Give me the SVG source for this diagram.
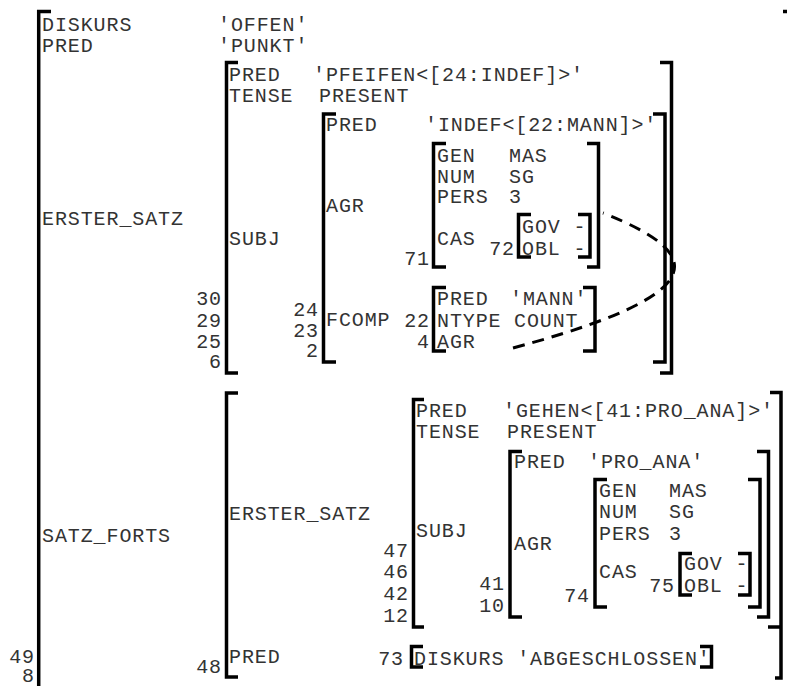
<svg xmlns="http://www.w3.org/2000/svg" width="787" height="686" viewBox="0 0 787 686">
<style>
.t{font-family:"Liberation Mono","Courier New",monospace;font-size:20px;letter-spacing:0.9px;fill:#333}
.n{text-anchor:end}
.b{fill:none;stroke:#000;stroke-width:3.5;stroke-linejoin:miter;stroke-linecap:butt}
.c{fill:none;stroke:#000;stroke-width:3;stroke-dasharray:12 8}
</style>
<rect width="787" height="686" fill="#fff"/>
<g id="f8">
<path class="b" d="M51,11.5 H38.7 V700"/>
<path class="b" d="M783,11.5 H792 V700"/>
<text class="t" x="42" y="31">DISKURS</text>
<text class="t" x="42" y="52">PRED</text>
<text class="t" x="218" y="31">'OFFEN'</text>
<text class="t" x="218" y="52">'PUNKT'</text>
<text class="t" x="42" y="225">ERSTER_SATZ</text>
<text class="t" x="42" y="542">SATZ_FORTS</text>
<text class="t n" x="35" y="663">49</text>
<text class="t n" x="35" y="682">8</text>
</g>
<g id="f6">
<path class="b" d="M238,62.5 H226.5 V373 H238"/>
<path class="b" d="M660,62.5 H671.5 V373 H660"/>
<text class="t" x="229" y="81">PRED</text>
<text class="t" x="313" y="81">'PFEIFEN&lt;[24:INDEF]&gt;'</text>
<text class="t" x="229" y="102">TENSE</text>
<text class="t" x="319" y="102">PRESENT</text>
<text class="t" x="229" y="245">SUBJ</text>
<text class="t n" x="222" y="305">30</text>
<text class="t n" x="222" y="327">29</text>
<text class="t n" x="222" y="348">25</text>
<text class="t n" x="222" y="368">6</text>
</g>
<g id="f2">
<path class="b" d="M336,114 H323.5 V362 H336"/>
<path class="b" d="M653,114 H665 V362 H653"/>
<text class="t" x="326" y="131">PRED</text>
<text class="t" x="425" y="131">'INDEF&lt;[22:MANN]&gt;'</text>
<text class="t" x="326" y="212">AGR</text>
<text class="t" x="326" y="326">FCOMP</text>
<text class="t n" x="319" y="316">24</text>
<text class="t n" x="319" y="337">23</text>
<text class="t n" x="319" y="357">2</text>
</g>
<g id="f71">
<path class="b" d="M446,143.5 H433.5 V267 H446"/>
<path class="b" d="M587,143.5 H598.5 V267 H587"/>
<text class="t" x="437" y="162">GEN</text>
<text class="t" x="509" y="162">MAS</text>
<text class="t" x="437" y="183">NUM</text>
<text class="t" x="509" y="183">SG</text>
<text class="t" x="437" y="203">PERS</text>
<text class="t" x="509" y="203">3</text>
<text class="t" x="437" y="245">CAS</text>
<text class="t n" x="430" y="265">71</text>
</g>
<g id="f72">
<path class="b" d="M531,214.5 H518.5 V257 H531"/>
<path class="b" d="M578,214.5 H590 V257 H578"/>
<text class="t" x="522" y="233">GOV -</text>
<text class="t" x="522" y="255">OBL -</text>
<text class="t n" x="515" y="255">72</text>
</g>
<g id="f4">
<path class="b" d="M446,287.5 H433.5 V351 H446"/>
<path class="b" d="M583,287.5 H595 V351 H583"/>
<text class="t" x="437" y="305">PRED</text>
<text class="t" x="510" y="305">'MANN'</text>
<text class="t" x="437" y="327">NTYPE</text>
<text class="t" x="514" y="327">COUNT</text>
<text class="t" x="437" y="348">AGR</text>
<text class="t n" x="430" y="327">22</text>
<text class="t n" x="430" y="348">4</text>
</g>
<g id="f48">
<path class="b" d="M238,393 H226.5 V677 H238"/>
<path class="b" d="M770,392.5 H781 V678 H775"/>
<text class="t" x="229" y="520">ERSTER_SATZ</text>
<text class="t" x="229" y="663">PRED</text>
<text class="t n" x="222" y="673">48</text>
</g>
<g id="f12">
<path class="b" d="M424,399.5 H413.5 V627 H424"/>
<path class="b" d="M768,627 H781"/>
<text class="t" x="416" y="417">PRED</text>
<text class="t" x="503" y="417">'GEHEN&lt;[41:PRO_ANA]&gt;'</text>
<text class="t" x="416" y="438">TENSE</text>
<text class="t" x="507" y="438">PRESENT</text>
<text class="t" x="416" y="537">SUBJ</text>
<text class="t n" x="409" y="557">47</text>
<text class="t n" x="409" y="578">46</text>
<text class="t n" x="409" y="600">42</text>
<text class="t n" x="409" y="622">12</text>
</g>
<g id="f10">
<path class="b" d="M522,451.5 H510 V617 H522"/>
<path class="b" d="M757,451.5 H768.5 V617 H757"/>
<text class="t" x="514" y="468">PRED</text>
<text class="t" x="588" y="468">'PRO_ANA'</text>
<text class="t" x="514" y="550">AGR</text>
<text class="t n" x="505" y="590">41</text>
<text class="t n" x="505" y="612">10</text>
</g>
<g id="f74">
<path class="b" d="M607,479.5 H595 V607 H607"/>
<path class="b" d="M748,479.5 H760 V607 H748"/>
<text class="t" x="599" y="497">GEN</text>
<text class="t" x="669" y="497">MAS</text>
<text class="t" x="599" y="518">NUM</text>
<text class="t" x="669" y="518">SG</text>
<text class="t" x="599" y="540">PERS</text>
<text class="t" x="669" y="540">3</text>
<text class="t" x="599" y="578">CAS</text>
<text class="t n" x="590" y="602">74</text>
</g>
<g id="f75">
<path class="b" d="M692,553.5 H680 V595 H692"/>
<path class="b" d="M738,553.5 H750 V595 H738"/>
<text class="t" x="684" y="570">GOV -</text>
<text class="t" x="684" y="592">OBL -</text>
<text class="t n" x="675" y="592">75</text>
</g>
<g id="f73">
<path class="b" d="M423,646.5 H411.5 V667 H423"/>
<path class="b" d="M700,646.5 H711.5 V667 H700"/>
<text class="t" x="414" y="665">DISKURS 'ABGESCHLOSSEN'</text>
<text class="t n" x="404" y="665">73</text>
</g>
<g id="connectors">
<path class="c" d="M513,348 C710,295 710,255 603,213"/>
</g>
</svg>
